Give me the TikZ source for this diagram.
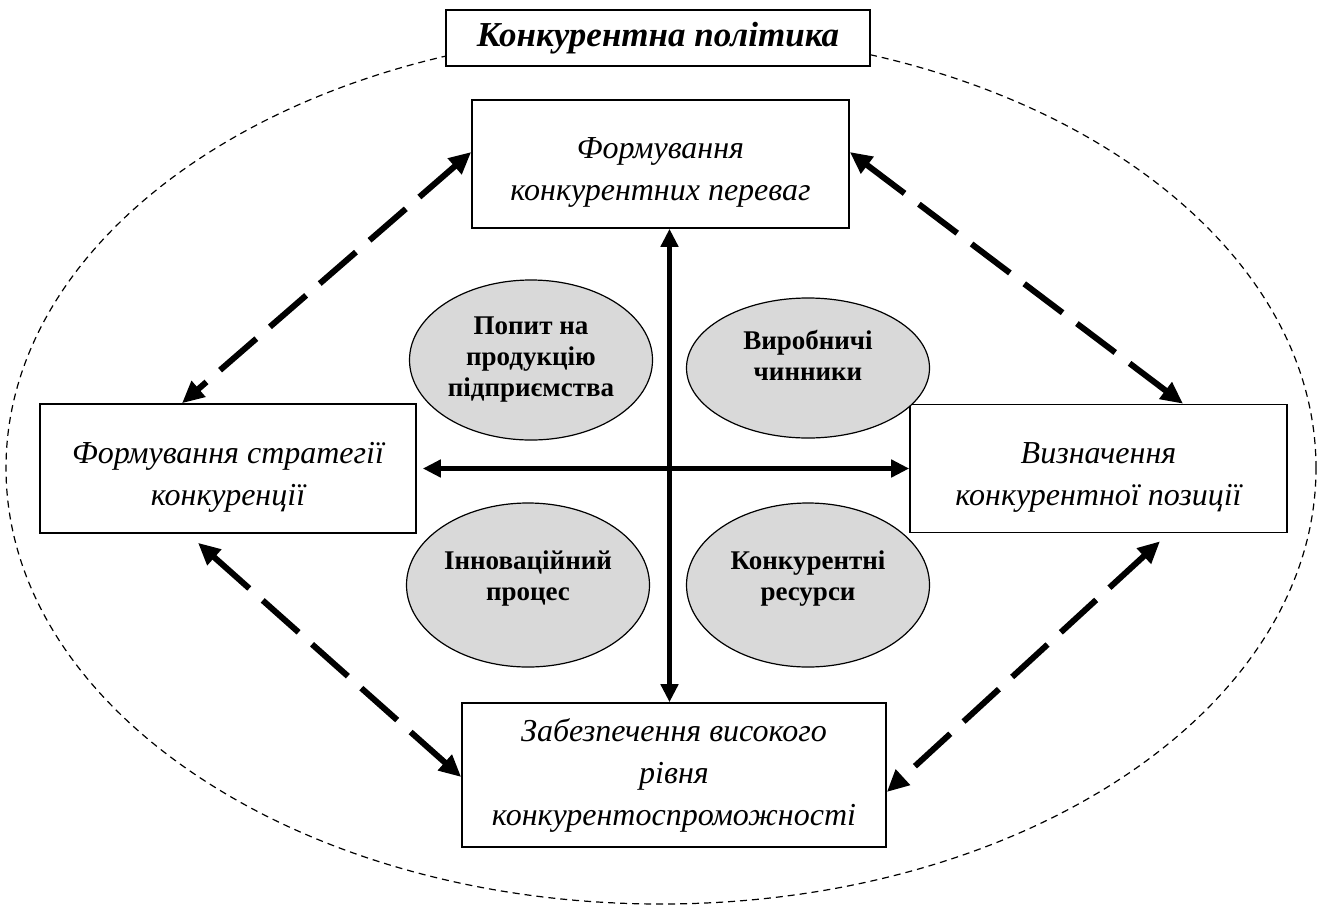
\documentclass[tikz,border=0pt]{standalone}
\usepackage{fontspec}
\setmainfont{Liberation Serif}
\usetikzlibrary{arrows.meta,shapes.geometric}
\definecolor{ovalgray}{HTML}{D9D9D9}
\newcommand{\topgap}[1]{\rule{0pt}{#1}}
\newcommand{\botgap}[1]{\rule[-#1]{0pt}{0pt}}
\begin{document}
\begin{tikzpicture}[x=1pt,y=-1pt,
  box/.style={draw, line width=1.6pt, fill=white, inner sep=0pt, align=center,
    font=\fontsize{32}{42}\selectfont\itshape},
  titlebox/.style={draw, line width=1.6pt, fill=white, inner sep=0pt, align=center,
    font=\fontsize{35}{40}\selectfont\bfseries\itshape},
  oval/.style={ellipse, draw, line width=1.2pt, fill=ovalgray, inner sep=0pt, align=center,
    minimum width=243pt, font=\fontsize{27}{31}\selectfont\bfseries},
  bigdash/.style={line width=1.2pt, dash pattern=on 7pt off 5pt},
  solidarr/.style={line width=5pt, {Triangle[length=18pt,width=17pt]}-{Triangle[length=18pt,width=17pt]}},
  dasharr/.style={line width=6pt, dash pattern=on 48pt off 18pt,
    {Triangle[length=22pt,width=20pt]}-{Triangle[length=22pt,width=20pt]}}
]
\useasboundingbox (0,0) rectangle (1321,916);

% outer dashed ellipse
\draw[bigdash] (661,468) ellipse [x radius=655pt, y radius=436pt];

% title
\node[titlebox, minimum width=424pt, minimum height=56pt] (title) at (658,38) {Конкурентна політика};

% boxes
\node[box, minimum width=377pt, minimum height=128pt] (topb) at (660.5,164)
  {\topgap{38pt}Формування\\конкурентних переваг};
\node[box, minimum width=376pt, minimum height=129pt] (leftb) at (228,468.5)
  {\topgap{38pt}Формування стратегії\\конкуренції};
\node[box, minimum width=377pt, minimum height=128pt] (rightb) at (1098.5,468.5)
  {\topgap{38pt}Визначення\\конкурентної позиції};
\node[box, minimum width=424pt, minimum height=144pt] (botb) at (674,775)
  {Забезпечення високого\\рівня\\конкурентоспроможності};

% ovals
\node[oval, minimum height=160pt] (o1) at (531,360) {Попит на\\продукцію\\підприємства};
\node[oval, minimum height=140pt] (o2) at (808,368) {Виробничі\\чинники\botgap{26pt}};
\node[oval, minimum height=164pt] (o3) at (528,585) {Інноваційний\\процес\botgap{19pt}};
\node[oval, minimum height=164pt] (o4) at (808,585) {Конкурентні\\ресурси\botgap{19pt}};

% central cross
\coordinate (vx) at (669.5,468);
\draw[solidarr] (topb.south -| vx) -- (botb.north -| vx);
\draw[solidarr] ([xshift=6pt]leftb.east) -- (rightb.west);

% dashed diagonal arrows
\draw[dasharr] ([yshift=12pt]topb.west) -- ([xshift=-46pt]leftb.north);
\draw[dasharr] ([yshift=12pt]topb.east) -- ([xshift=84.5pt]rightb.north);
\draw[dasharr] ([xshift=-30pt,yshift=-9pt]leftb.south) -- ([yshift=-2pt]botb.west);
\draw[dasharr] ([xshift=61.5pt,yshift=-8pt]rightb.south) -- ([yshift=-17pt]botb.east);
\end{tikzpicture}
\end{document}
